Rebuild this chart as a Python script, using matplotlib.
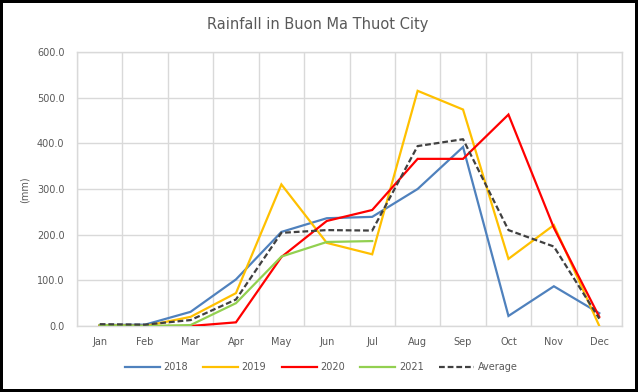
import numpy as np
import matplotlib
matplotlib.use("Agg")
import matplotlib.pyplot as plt

months = ["Jan", "Feb", "Mar", "Apr", "May", "Jun", "Jul", "Aug", "Sep", "Oct", "Nov", "Dec"]
rain_2018 = [2, 3, 31, 102, 206, 236, 239, 300, 392, 22, 87, 28]
rain_2019 = [2, 0, 20, 72, 310, 182, 157, 515, 474, 147, 221, 0]
rain_2020 = [0, 0, 0, 8, 151, 230, 254, 366, 366, 463, 215, 20]
rain_2021 = [2, 0, 2, 50, 152, 184, 186, None, None, None, None, None]
rain_avg = [4, 3, 13, 58, 204, 210, 209, 394, 409, 210, 174, 16]
yticks = [0, 100, 200, 300, 400, 500, 600]
title = "Rainfall in Buon Ma Thuot City"
ylabel = "(mm)"

def arr(v):
    return np.array([np.nan if x is None else x for x in v], dtype=float)

fig = plt.figure(figsize=(6.38, 3.92), dpi=100)
fig.patch.set_facecolor("white")
fig.patch.set_edgecolor("black")
fig.patch.set_linewidth(3)

ax = fig.add_axes([77/638, 66/392, 545/638, 274/392])
x = np.arange(len(months))
gray = "#595959"
grid = "#D9D9D9"

series = [
    (rain_2018, "2018", "#4F81BD"),
    (rain_2019, "2019", "#FFC000"),
    (rain_2020, "2020", "#FF0000"),
    (rain_2021, "2021", "#92D050"),
]
for vals, lab, col in series:
    ax.plot(x, arr(vals), color=col, lw=1.6, label=lab, solid_joinstyle="miter", zorder=3)
ax.plot(x, arr(rain_avg), color="#404040", lw=1.6, ls=(0, (2.6, 1.3)), label="Average", zorder=4)

ax.set_xlim(-0.5, len(months) - 0.5)
ax.set_ylim(0, 600)
ax.set_yticks(yticks)
ax.set_yticklabels([f"{v:.1f}" for v in yticks])
ax.set_xticks(x)
ax.set_xticklabels(months)
ax.set_xticks(np.arange(-0.5, len(months)), minor=True)
ax.grid(True, axis="y", which="major", color=grid, lw=1)
ax.grid(True, axis="x", which="minor", color=grid, lw=1)
ax.grid(False, axis="x", which="major")
ax.tick_params(axis="both", which="both", length=0, labelsize=7, labelcolor=gray, pad=8)
ax.tick_params(axis="y", pad=9)
for s in ax.spines.values():
    s.set_color(grid)
    s.set_linewidth(1)
ax.set_axisbelow(True)

fig.text(318/638, 1 - 25/392, title, ha="center", va="center", fontsize=10.5, color=gray)
fig.text(25/638, 1 - 190/392, ylabel, ha="center", va="center", rotation=90, fontsize=7, color=gray)

leg = fig.legend(loc="center", bbox_to_anchor=(321/638, 1 - 367/392), ncol=5, frameon=False,
                 fontsize=7, handlelength=3.6, handletextpad=0.35, columnspacing=1.6)
for t in leg.get_texts():
    t.set_color(gray)

fig.savefig("out.png", dpi=100, facecolor=fig.get_facecolor(), edgecolor=fig.get_edgecolor())
